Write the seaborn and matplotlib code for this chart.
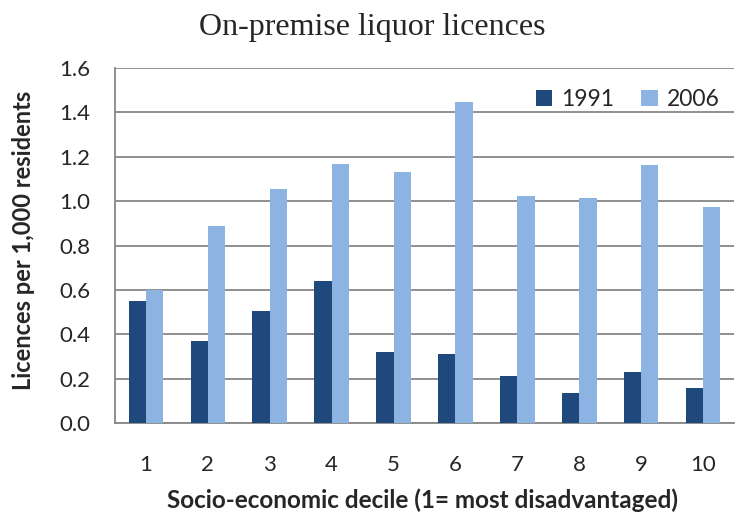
import matplotlib
matplotlib.use("Agg")
import matplotlib.pyplot as plt
import seaborn as sns
import pandas as pd
import numpy as np

deciles = ["1", "2", "3", "4", "5", "6", "7", "8", "9", "10"]
v1991 = [0.55, 0.37, 0.505, 0.64, 0.32, 0.31, 0.21, 0.137, 0.23, 0.16]
v2006 = [0.60, 0.888, 1.056, 1.169, 1.13, 1.448, 1.022, 1.013, 1.164, 0.973]
years = ["1991", "2006"]
yticks = [0.0, 0.2, 0.4, 0.6, 0.8, 1.0, 1.2, 1.4, 1.6]

df = pd.DataFrame({
    "decile": deciles * 2,
    "year": [years[0]] * len(deciles) + [years[1]] * len(deciles),
    "value": v1991 + v2006,
})

sns.set_style("white")
plt.rcParams["font.family"] = ["Lato", "DejaVu Sans"]

fig = plt.figure(figsize=(7.35, 5.15), dpi=100)
ax = fig.add_axes([115 / 735, 1 - 423 / 515, (734 - 115) / 735, (423 - 68) / 515])

sns.barplot(data=df, x="decile", y="value", hue="year", order=deciles,
            hue_order=years, palette=["#1F497D", "#8DB3E2"], width=0.56,
            gap=0, saturation=1, ax=ax, zorder=3, edgecolor="none")

ax.set_ylim(0, 1.6)
ax.set_xlim(-0.5, len(deciles) - 0.5)
ax.set_yticks(yticks)
ax.set_yticklabels([f"{t:.1f}" for t in yticks], fontsize=16)
ax.yaxis.grid(True, color="#878787", linewidth=1.3, zorder=0)
ax.set_axisbelow(True)

# category boundary ticks (major, unlabeled) and centered labels (minor)
ax.set_xticks(np.arange(-0.5, len(deciles), 1.0))
ax.set_xticklabels([])
ax.set_xticks(np.arange(len(deciles)), minor=True)
ax.set_xticklabels(deciles, minor=True, fontsize=16)
ax.tick_params(axis="x", which="major", length=7, width=1.2, color="#878787", direction="out")
ax.tick_params(axis="x", which="minor", length=0, pad=23)
ax.tick_params(axis="y", which="major", length=7, width=1.2, color="#878787", direction="out", pad=11)

for s in ["top", "right"]:
    ax.spines[s].set_visible(False)
for s in ["left", "bottom"]:
    ax.spines[s].set_color("#878787")
    ax.spines[s].set_linewidth(1.3)

ax.set_xlabel("Socio-economic decile (1= most disadvantaged)", fontsize=17.5, fontweight="bold", va="center")
ax.xaxis.set_label_coords((423 - 115) / 619, (423 - 500) / 355)
ax.set_ylabel("Licences per 1,000 residents", fontsize=17, fontweight="bold", va="center")
ax.yaxis.set_label_coords((23 - 115) / 619, (423 - 240) / 355)

fig.text(372 / 735, 1 - 27 / 515, "On-premise liquor licences", ha="center", va="center",
         fontsize=23, family=["Liberation Serif", "DejaVu Serif"])

leg = ax.legend(loc="upper right", bbox_to_anchor=(1.01, 1.0), frameon=False, fontsize=16.5,
                ncol=2, handlelength=0.7, handleheight=0.7, columnspacing=1.2, handletextpad=0.4)

fig.savefig("out.png", dpi=100)
